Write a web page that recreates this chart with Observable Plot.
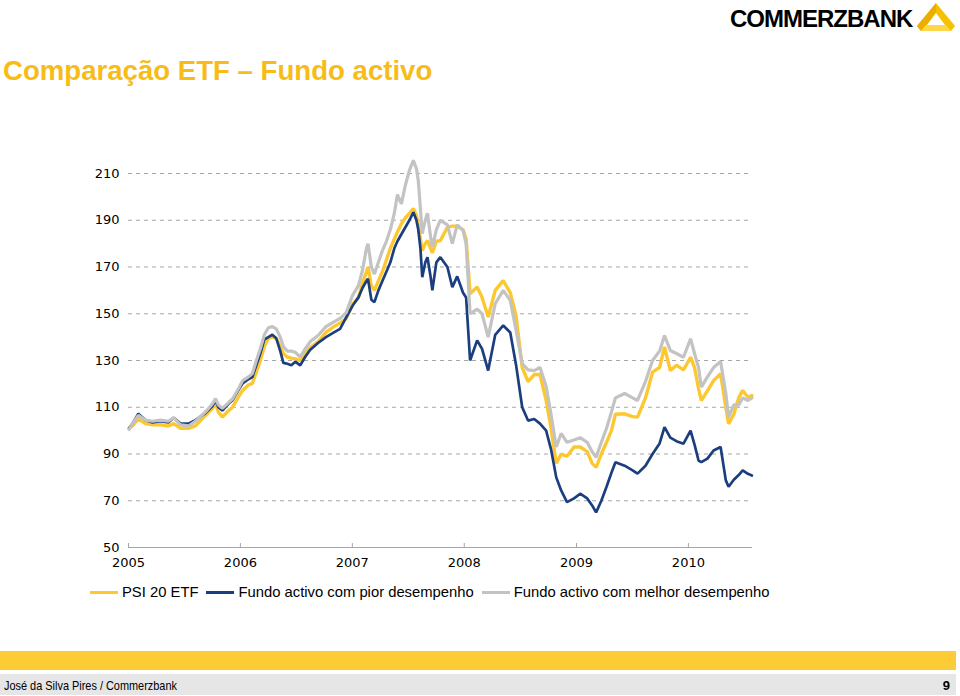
<!DOCTYPE html>
<html>
<head>
<meta charset="utf-8">
<script src="https://cdn.jsdelivr.net/npm/d3@7"></script>
<script src="https://cdn.jsdelivr.net/npm/@observablehq/plot@0.6"></script>
<style>
  html, body { margin: 0; padding: 0; background: #fff; }
  #page { position: relative; width: 960px; height: 696px; overflow: hidden; font-family: "Liberation Sans", Arial, sans-serif; }
  #title { position: absolute; left: 3px; top: 57px; font-size: 27.6px; line-height: 1; font-weight: bold; color: #F8BC18; white-space: nowrap; }
  #logo { position: absolute; left: 729px; top: 3px; }
  #chart { position: absolute; left: 0; top: 140px; }
  #legend { position: absolute; left: 90px; top: 584px; height: 16px; display: flex; align-items: center; font-size: 14.8px; color: #000; white-space: nowrap; }
  #legend .sw { display: inline-block; width: 28px; height: 3px; margin-right: 4px; }
  #legend .it { display: flex; align-items: center; margin-right: 8px; }
  #ybar { position: absolute; left: 0; top: 651px; width: 956px; height: 19px; background: #FDCB35; }
  #gbar { position: absolute; left: 0; top: 674px; width: 956px; height: 21px; background: #E6E6E6; }
  #foot { position: absolute; left: 4px; top: 679px; font-size: 13px; line-height: 1; color: #000; white-space: nowrap; transform: scaleX(0.84); transform-origin: 0 0; }
  #pnum { position: absolute; right: 10px; top: 679px; font-size: 13px; line-height: 1; font-weight: bold; color: #000; }
</style>
</head>
<body>
<div id="page">
  <svg id="logo" width="230" height="34" viewBox="729 3 230 34">
    <text x="730" y="27" font-family="Liberation Sans, Arial, sans-serif" font-weight="bold" font-size="24" letter-spacing="-1" fill="#000">COMMERZBANK</text>
    <path d="M936,3 L955,26 L951,31 L921,31 L917,26 Z" fill="#F6C200"/>
    <path d="M936,3 L917,26 L921,31 L926,26 L936,12 Z" fill="#E9AE00"/>
    <path d="M926,25 L946,25 L951,31 L921,31 Z" fill="#FFD84A"/>
    <path d="M936,13 L945,25 L927,25 Z" fill="#fff"/>
  </svg>
  <div id="title">Comparação ETF – Fundo activo</div>
  <div id="chart"></div>
  <div id="legend"></div>
  <div id="ybar"></div>
  <div id="gbar"></div>
  <div id="foot">José da Silva Pires / Commerzbank</div>
  <div id="pnum">9</div>
</div>
<script>
const dates = [
"2005-01-03","2005-01-14","2005-02-02","2005-02-25","2005-03-20","2005-04-15","2005-05-11","2005-05-28","2005-06-20","2005-07-16",
"2005-08-07","2005-09-09","2005-10-02","2005-10-12","2005-10-21","2005-11-03","2005-11-23","2005-12-06","2005-12-26","2006-01-08",
"2006-01-27","2006-02-09","2006-02-22","2006-03-07","2006-03-20","2006-04-02","2006-04-15","2006-04-28","2006-05-11","2006-05-21",
"2006-06-03","2006-06-16","2006-06-29","2006-07-15","2006-07-31","2006-08-16","2006-09-11","2006-10-07","2006-11-02","2006-11-22",
"2006-12-12","2007-01-02","2007-01-21","2007-02-03","2007-02-16","2007-02-21","2007-03-04","2007-03-14","2007-03-27","2007-04-09",
"2007-04-22","2007-05-05","2007-05-18","2007-05-28","2007-06-10","2007-06-23","2007-07-06","2007-07-19","2007-07-29","2007-08-04",
"2007-08-11","2007-08-17","2007-08-27","2007-09-03","2007-09-13","2007-09-19","2007-10-02","2007-10-15","2007-11-07","2007-11-23",
"2007-12-09","2007-12-28","2008-01-07","2008-01-20","2008-02-12","2008-02-28","2008-03-19","2008-04-11","2008-05-07","2008-05-30",
"2008-06-18","2008-07-08","2008-07-27","2008-08-16","2008-09-04","2008-09-24","2008-10-10","2008-10-27","2008-11-12","2008-12-01",
"2008-12-24","2009-01-13","2009-02-05","2009-02-21","2009-03-06","2009-03-23","2009-04-09","2009-04-25","2009-05-08","2009-06-07",
"2009-07-03","2009-07-19","2009-08-14","2009-09-06","2009-09-29","2009-10-15","2009-11-03","2009-11-23","2009-12-16","2010-01-08",
"2010-01-21","2010-02-03","2010-02-12","2010-03-04","2010-03-24","2010-04-16","2010-05-03","2010-05-12","2010-05-29","2010-06-14",
"2010-06-27","2010-07-14","2010-07-27"];

const psi20Etf = [
101,102,105,103,102.5,102.5,102,103,101,101,
102,106.5,109.5,111.6,108,105.8,108.5,110,114.5,117.2,
119.5,120.2,125,130,136,139.5,140,139.5,136,133,
131.5,131,130.7,130,133,135.5,138,142,144.5,146,
148,154,157,163,168,170,162,160,164,168,
173,178,182,185,188.5,191,193,195,192,188,
182,177,180,181.3,178,176,181,181.3,187,187.5,
187.5,186,182,158.6,161.4,157,148.6,160,164.2,159,
149,127,121,124,124,113,101,86,90,89,
93,93,91,86,84.3,90,95,100,107,107.2,
106,105.8,114,125,127,135.8,125.7,128,126,131.4,
127,118,112.9,117,121.4,124.3,110,102.9,107,114,
117.2,114.3,115];

const fundoPior = [
101,103,107.2,104.5,103.5,104,103.5,105.5,103,103,
104.5,107.5,110.5,112.9,110,108.6,111.5,113,117.5,120.2,
122,122.9,128,133,139,140,141,139.5,134,129,
128.6,128,129.5,127.9,131.5,134.5,137.5,140,142,143.5,
148.5,153.5,157,161,164,165,156,155,160,164,
168,172,178,181,184,187,190,193.4,190,186,
178,165.6,172,174.2,166,160,172,174.2,170,161.4,
166,159,157,130,138.6,135,125.7,141,145,142,
128,110,104.3,105,103,100,92,80,74.4,69.4,
71,73,71,68,65,70,76,82,86.5,85,
83,81.6,85,90,94.5,101.5,97,95.5,94.4,100,
94,87.2,86.5,88,91.5,93,78.7,76,79,81,
83,81.5,80.8];

const fundoMelhor = [
100.5,103,106.5,104.5,104,104.5,104,105.5,102.5,102,
104,108,111.5,113.7,111,109.5,112,113.5,118,121.4,
123,124.4,130,135,141,144,144.5,143.5,140,136,
134,134,133.5,131.5,135,138,140.7,144.5,146.5,148,
150.5,158,162,168.5,178,180,170,167,172,177,
181,186,193,201,197,205,211.3,215.6,212,207,
195,184.3,190,193,183,178.5,186,190,188,180,
188,185.6,180,150,152,150,140,154.3,160,155.7,
143,128.7,126,125.7,127,119,107,93,98.8,95,
96,97,95,91,88.6,95,101,108,114,115.9,
114,112.9,121,130,134,140.7,134.3,133,131.4,139.3,
133,127,118.6,123,127,129.6,115.9,105.8,111,111,
114,112.9,114];

const seriesNames = ["PSI 20 ETF", "Fundo activo com pior desempenho", "Fundo activo com melhor desempenho"];
const seriesColors = ["#FDC82F", "#1B3F7E", "#C3C3C3"];
const yTicks = [50, 70, 90, 110, 130, 150, 170, 190, 210];
const yearTicks = ["2005-01-01", "2006-01-01", "2007-01-01", "2008-01-01", "2009-01-01", "2010-01-01"];
const xDomain = ["2005-01-01", "2010-07-29"];

const parse = d3.utcParse("%Y-%m-%d");
const allValues = [psi20Etf, fundoPior, fundoMelhor];
const table = [];
allValues.forEach((vals, s) => {
  vals.forEach((v, i) => table.push({date: parse(dates[i]), value: v, series: seriesNames[s]}));
});
const years = yearTicks.map(parse);

const H = 440, mTop = 33, mBottom = 33;
const chart = Plot.plot({
  width: 960,
  height: H,
  marginLeft: 128,
  marginRight: 208,
  marginTop: mTop,
  marginBottom: mBottom,
  style: {fontFamily: "DejaVu Sans, Verdana, sans-serif", fontSize: "13px", color: "#000", background: "transparent"},
  x: {type: "utc", domain: xDomain.map(parse)},
  y: {domain: [50, 210]},
  color: {domain: seriesNames, range: seriesColors},
  marks: [
    Plot.ruleY(yTicks.filter(d => d > 50), {stroke: "#A6A6A6", strokeWidth: 1, strokeDasharray: "4,4"}),
    Plot.ruleY([50], {stroke: "#A6A6A6", strokeWidth: 1}),
    Plot.tickX(years, {x: d => d, stroke: "#A6A6A6", insetTop: H - mTop - mBottom - 4}),
    Plot.line(table.filter(d => d.series === seriesNames[0]), {x: "date", y: "value", stroke: seriesColors[0], strokeWidth: 3.4, strokeLinejoin: "miter"}),
    Plot.line(table.filter(d => d.series === seriesNames[1]), {x: "date", y: "value", stroke: seriesColors[1], strokeWidth: 2.7, strokeLinejoin: "miter"}),
    Plot.line(table.filter(d => d.series === seriesNames[2]), {x: "date", y: "value", stroke: seriesColors[2], strokeWidth: 3.2, strokeLinejoin: "miter"}),
    Plot.axisY({ticks: yTicks, tickSize: 0, tickPadding: 9, label: null}),
    Plot.axisX({ticks: years, tickSize: 0, tickPadding: 10, tickFormat: d3.utcFormat("%Y"), label: null})
  ]
});
document.getElementById("chart").appendChild(chart);

const legend = document.getElementById("legend");
seriesNames.forEach((name, i) => {
  const it = document.createElement("div");
  it.className = "it";
  const sw = document.createElement("span");
  sw.className = "sw";
  sw.style.background = seriesColors[i];
  const tx = document.createElement("span");
  tx.textContent = name;
  it.appendChild(sw);
  it.appendChild(tx);
  legend.appendChild(it);
});
</script>
</body>
</html>
